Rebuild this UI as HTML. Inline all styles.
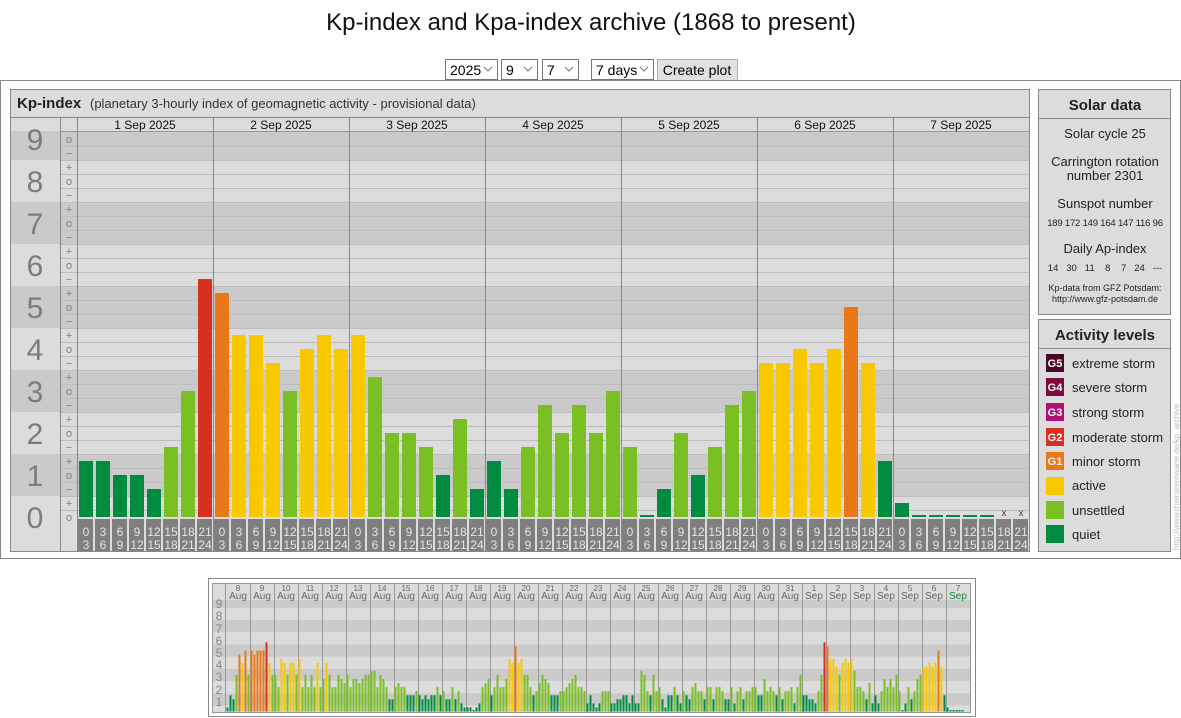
<!DOCTYPE html>
<html><head><meta charset="utf-8"><style>
html,body{margin:0;padding:0;background:#fff;width:1181px;height:718px;overflow:hidden}
svg{display:block;font-family:"Liberation Sans",Arial,sans-serif}
.sg{font-size:11px;fill:#808080;text-anchor:middle}
.tl{font-size:12px;fill:#e4e4e4;text-anchor:middle}
.dl{font-size:12px;fill:#111;text-anchor:middle}
.bn{font-size:30px;fill:#7c7c7c;text-anchor:middle}
.sd{fill:#222;text-anchor:middle}
.al{font-size:13px;fill:#222}
.gl{font-size:11px;fill:#fff;font-weight:bold;text-anchor:middle}
.md{font-size:8px;fill:#666;text-anchor:middle}
.mm{font-size:10px;fill:#666;text-anchor:middle}
.mn{font-size:12px;fill:#888;text-anchor:middle}
</style></head><body>
<svg id="s" width="1181" height="718" viewBox="0 0 1181 718" xmlns="http://www.w3.org/2000/svg">
<text x="591" y="30" font-size="24" text-anchor="middle" fill="#111">Kp-index and Kpa-index archive (1868 to present)</text>
<!-- controls -->
<g font-size="14" fill="#000">
<rect x="445.5" y="59.5" width="52" height="20" fill="#fff" stroke="#767676"/><text x="450" y="75">2025</text><path d="M484 67l4 4 4-4" fill="none" stroke="#777"/>
<rect x="501.5" y="59.5" width="36" height="20" fill="#fff" stroke="#767676"/><text x="506" y="75">9</text><path d="M524 67l4 4 4-4" fill="none" stroke="#777"/>
<rect x="542.5" y="59.5" width="36" height="20" fill="#fff" stroke="#767676"/><text x="547" y="75">7</text><path d="M565 67l4 4 4-4" fill="none" stroke="#777"/>
<rect x="591.5" y="59.5" width="62" height="20" fill="#fff" stroke="#767676"/><text x="596" y="75">7 days</text><path d="M640 67l4 4 4-4" fill="none" stroke="#777"/>
<rect x="657.5" y="59.5" width="80" height="21" fill="#e1e1e1" stroke="#adadad"/><text x="697" y="75" text-anchor="middle">Create plot</text>
</g>
<rect x="0.5" y="80.5" width="1180" height="478" fill="#fff" stroke="#888"/>
<rect x="10.5" y="89.5" width="1019" height="462" fill="#dcdcdc" stroke="#888"/>
<g id="main"></g>
<line x1="10" y1="117.5" x2="1029" y2="117.5" stroke="#888"/>
<text x="17" y="108" font-size="15" font-weight="bold" fill="#222">Kp-index</text>
<text x="90" y="108" font-size="13" fill="#333">(planetary 3-hourly index of geomagnetic activity - provisional data)</text>
<g class="dl">
<text x="145" y="129">1 Sep 2025</text><text x="281" y="129">2 Sep 2025</text><text x="417" y="129">3 Sep 2025</text><text x="553" y="129">4 Sep 2025</text><text x="689" y="129">5 Sep 2025</text><text x="825" y="129">6 Sep 2025</text><text x="961" y="129">7 Sep 2025</text>
</g>
<g class="bn">
<text x="35" y="528">0</text><text x="35" y="486">1</text><text x="35" y="444">2</text><text x="35" y="402">3</text><text x="35" y="360">4</text><text x="35" y="318">5</text><text x="35" y="276">6</text><text x="35" y="234">7</text><text x="35" y="192">8</text><text x="35" y="150">9</text>
</g>
<text class="sg"><tspan x="69" y="521">o</tspan><tspan x="69" y="507">+</tspan><tspan x="69" y="493">−</tspan><tspan x="69" y="479">o</tspan><tspan x="69" y="465">+</tspan><tspan x="69" y="451">−</tspan><tspan x="69" y="437">o</tspan><tspan x="69" y="423">+</tspan><tspan x="69" y="409">−</tspan><tspan x="69" y="395">o</tspan><tspan x="69" y="381">+</tspan><tspan x="69" y="367">−</tspan><tspan x="69" y="353">o</tspan><tspan x="69" y="339">+</tspan><tspan x="69" y="325">−</tspan><tspan x="69" y="311">o</tspan><tspan x="69" y="297">+</tspan><tspan x="69" y="283">−</tspan><tspan x="69" y="269">o</tspan><tspan x="69" y="255">+</tspan><tspan x="69" y="241">−</tspan><tspan x="69" y="227">o</tspan><tspan x="69" y="213">+</tspan><tspan x="69" y="199">−</tspan><tspan x="69" y="185">o</tspan><tspan x="69" y="171">+</tspan><tspan x="69" y="157">−</tspan><tspan x="69" y="143">o</tspan></text>
<g class="tl">
<text y="536"><tspan x="86">0</tspan><tspan x="103">3</tspan><tspan x="120">6</tspan><tspan x="137">9</tspan><tspan x="154">12</tspan><tspan x="171">15</tspan><tspan x="188">18</tspan><tspan x="205">21</tspan><tspan x="222">0</tspan><tspan x="239">3</tspan><tspan x="256">6</tspan><tspan x="273">9</tspan><tspan x="290">12</tspan><tspan x="307">15</tspan><tspan x="324">18</tspan><tspan x="341">21</tspan><tspan x="358">0</tspan><tspan x="375">3</tspan><tspan x="392">6</tspan><tspan x="409">9</tspan><tspan x="426">12</tspan><tspan x="443">15</tspan><tspan x="460">18</tspan><tspan x="477">21</tspan><tspan x="494">0</tspan><tspan x="511">3</tspan><tspan x="528">6</tspan><tspan x="545">9</tspan><tspan x="562">12</tspan><tspan x="579">15</tspan><tspan x="596">18</tspan><tspan x="613">21</tspan><tspan x="630">0</tspan><tspan x="647">3</tspan><tspan x="664">6</tspan><tspan x="681">9</tspan><tspan x="698">12</tspan><tspan x="715">15</tspan><tspan x="732">18</tspan><tspan x="749">21</tspan><tspan x="766">0</tspan><tspan x="783">3</tspan><tspan x="800">6</tspan><tspan x="817">9</tspan><tspan x="834">12</tspan><tspan x="851">15</tspan><tspan x="868">18</tspan><tspan x="885">21</tspan><tspan x="902">0</tspan><tspan x="919">3</tspan><tspan x="936">6</tspan><tspan x="953">9</tspan><tspan x="970">12</tspan><tspan x="987">15</tspan><tspan x="1004">18</tspan><tspan x="1021">21</tspan></text>
<text y="549"><tspan x="86">3</tspan><tspan x="103">6</tspan><tspan x="120">9</tspan><tspan x="137">12</tspan><tspan x="154">15</tspan><tspan x="171">18</tspan><tspan x="188">21</tspan><tspan x="205">24</tspan><tspan x="222">3</tspan><tspan x="239">6</tspan><tspan x="256">9</tspan><tspan x="273">12</tspan><tspan x="290">15</tspan><tspan x="307">18</tspan><tspan x="324">21</tspan><tspan x="341">24</tspan><tspan x="358">3</tspan><tspan x="375">6</tspan><tspan x="392">9</tspan><tspan x="409">12</tspan><tspan x="426">15</tspan><tspan x="443">18</tspan><tspan x="460">21</tspan><tspan x="477">24</tspan><tspan x="494">3</tspan><tspan x="511">6</tspan><tspan x="528">9</tspan><tspan x="545">12</tspan><tspan x="562">15</tspan><tspan x="579">18</tspan><tspan x="596">21</tspan><tspan x="613">24</tspan><tspan x="630">3</tspan><tspan x="647">6</tspan><tspan x="664">9</tspan><tspan x="681">12</tspan><tspan x="698">15</tspan><tspan x="715">18</tspan><tspan x="732">21</tspan><tspan x="749">24</tspan><tspan x="766">3</tspan><tspan x="783">6</tspan><tspan x="800">9</tspan><tspan x="817">12</tspan><tspan x="834">15</tspan><tspan x="851">18</tspan><tspan x="868">21</tspan><tspan x="885">24</tspan><tspan x="902">3</tspan><tspan x="919">6</tspan><tspan x="936">9</tspan><tspan x="953">12</tspan><tspan x="970">15</tspan><tspan x="987">18</tspan><tspan x="1004">21</tspan><tspan x="1021">24</tspan></text>
</g>
<text x="1004" y="516" font-size="10" fill="#444" text-anchor="middle">x</text>
<text x="1021" y="516" font-size="10" fill="#444" text-anchor="middle">x</text>
<!-- solar data -->
<rect x="1038.5" y="89.5" width="132" height="225" fill="#dcdcdc" stroke="#888"/>
<line x1="1038" y1="118.5" x2="1171" y2="118.5" stroke="#888"/>
<text x="1105" y="110" font-size="15" font-weight="bold" class="sd">Solar data</text>
<g class="sd" font-size="13">
<text x="1105" y="138">Solar cycle 25</text>
<text x="1105" y="166">Carrington rotation</text>
<text x="1105" y="180">number 2301</text>
<text x="1105" y="208">Sunspot number</text>
<text x="1105" y="253">Daily Ap-index</text>
</g>
<g class="sd" font-size="9.5">
<text x="1105" y="226" letter-spacing="-0.2">189 172 149 164 147 116  96</text>
<text x="1105" y="271" xml:space="preserve">14   30   11    8    7   24   ---</text>
<text x="1105" y="291" font-size="9">Kp-data from  GFZ Potsdam:</text>
<text x="1105" y="302" font-size="9">http://www.gfz-potsdam.de</text>
</g>
<rect x="1038.5" y="319.5" width="132" height="232" fill="#dcdcdc" stroke="#888"/>
<line x1="1038" y1="348.5" x2="1171" y2="348.5" stroke="#888"/>
<text x="1105" y="340" font-size="15" font-weight="bold" class="sd">Activity levels</text>
<rect x="1046" y="354" width="18" height="18" fill="#4a0824"/><text class="gl" x="1055" y="367">G5</text><text class="al" x="1072" y="368">extreme storm</text>
<rect x="1046" y="378" width="18" height="18" fill="#7a0a3c"/><text class="gl" x="1055" y="391">G4</text><text class="al" x="1072" y="392">severe storm</text>
<rect x="1046" y="403" width="18" height="18" fill="#b0106e"/><text class="gl" x="1055" y="416">G3</text><text class="al" x="1072" y="417">strong storm</text>
<rect x="1046" y="428" width="18" height="18" fill="#d83020"/><text class="gl" x="1055" y="441">G2</text><text class="al" x="1072" y="442">moderate storm</text>
<rect x="1046" y="452" width="18" height="18" fill="#e87818"/><text class="gl" x="1055" y="465">G1</text><text class="al" x="1072" y="466">minor storm</text>
<rect x="1046" y="477" width="18" height="18" fill="#f8c800"/><text class="al" x="1072" y="490">active</text>
<rect x="1046" y="501" width="18" height="18" fill="#7abf24"/><text class="al" x="1072" y="515">unsettled</text>
<rect x="1046" y="525" width="18" height="18" fill="#008c40"/><text class="al" x="1072" y="539">quiet</text>
<text transform="translate(1179,550) rotate(-90)" font-size="8" fill="#bbb">http://www.rheinsternwarte.de/kp_archive</text>
<!-- mini -->
<rect x="208.5" y="578.5" width="767" height="138" fill="#fff" stroke="#888"/>
<rect x="212.5" y="583.5" width="758" height="129" fill="#dcdcdc" stroke="#999"/>
<g id="mini"></g>
<g class="mn">
<text x="219" y="706">1</text><text x="219" y="694">2</text><text x="219" y="681">3</text><text x="219" y="669">4</text><text x="219" y="657">5</text><text x="219" y="645">6</text><text x="219" y="633">7</text><text x="219" y="620">8</text><text x="219" y="608">9</text>
</g>
<g class="md">
<text y="591"><tspan x="238">8</tspan><tspan x="262">9</tspan><tspan x="286">10</tspan><tspan x="310">11</tspan><tspan x="334">12</tspan><tspan x="358">13</tspan><tspan x="382">14</tspan><tspan x="406">15</tspan><tspan x="430">16</tspan><tspan x="454">17</tspan><tspan x="478">18</tspan><tspan x="502">19</tspan><tspan x="526">20</tspan><tspan x="550">21</tspan><tspan x="574">22</tspan><tspan x="598">23</tspan><tspan x="622">24</tspan><tspan x="646">25</tspan><tspan x="670">26</tspan><tspan x="694">27</tspan><tspan x="718">28</tspan><tspan x="742">29</tspan><tspan x="766">30</tspan><tspan x="790">31</tspan><tspan x="814">1</tspan><tspan x="838">2</tspan><tspan x="862">3</tspan><tspan x="886">4</tspan><tspan x="910">5</tspan><tspan x="934">6</tspan><tspan x="958" fill="#0a9040">7</tspan></text>
</g>
<g class="mm">
<text y="599"><tspan x="238">Aug</tspan><tspan x="262">Aug</tspan><tspan x="286">Aug</tspan><tspan x="310">Aug</tspan><tspan x="334">Aug</tspan><tspan x="358">Aug</tspan><tspan x="382">Aug</tspan><tspan x="406">Aug</tspan><tspan x="430">Aug</tspan><tspan x="454">Aug</tspan><tspan x="478">Aug</tspan><tspan x="502">Aug</tspan><tspan x="526">Aug</tspan><tspan x="550">Aug</tspan><tspan x="574">Aug</tspan><tspan x="598">Aug</tspan><tspan x="622">Aug</tspan><tspan x="646">Aug</tspan><tspan x="670">Aug</tspan><tspan x="694">Aug</tspan><tspan x="718">Aug</tspan><tspan x="742">Aug</tspan><tspan x="766">Aug</tspan><tspan x="790">Aug</tspan><tspan x="814">Sep</tspan><tspan x="838">Sep</tspan><tspan x="862">Sep</tspan><tspan x="886">Sep</tspan><tspan x="910">Sep</tspan><tspan x="934">Sep</tspan><tspan x="958" fill="#0a9040">Sep</tspan></text>
</g>
</svg>
<script>
(function(){
var NS='http://www.w3.org/2000/svg';
function el(p,t,a){var e=document.createElementNS(NS,t);for(var k in a)e.setAttribute(k,a[k]);p.insertBefore(e,p.firstChild&&p.id=='main'&&t=='zz'?null:null);p.appendChild(e);return e;}
function col(v){return v<=4?'#008c40':v<=10?'#7abf24':v<=13?'#f8c800':v<=16?'#e87818':'#d83020';}
var main=document.getElementById('main');
// bands
for(var n=0;n<=9;n++){var y1=517-(n+0.5)*42,y2=517-(n-0.5)*42;y1=Math.max(y1,131);y2=Math.min(y2,517);
el(main,'rect',{x:11,y:y1,width:1018,height:y2-y1,fill:n%2?'#cacaca':'#dcdcdc'});}
el(main,'rect',{x:11,y:118,width:1018,height:13,fill:'#dcdcdc'});
el(main,'rect',{x:11,y:517,width:1018,height:34,fill:'#dcdcdc'});
for(var k=0;k<27;k++){var y=Math.round(517-(k+0.5)*14)+0.5;el(main,'line',{x1:60,y1:y,x2:1029,y2:y,stroke:'#bdbdbd'});}
el(main,'line',{x1:60,y1:131.5,x2:1029,y2:131.5,stroke:'#999'});
el(main,'line',{x1:60.5,y1:118,x2:60.5,y2:551,stroke:'#888'});
el(main,'line',{x1:77.5,y1:118,x2:77.5,y2:551,stroke:'#888'});
for(var d=1;d<7;d++){var x=77+136*d+0.5;el(main,'line',{x1:x,y1:118,x2:x,y2:551,stroke:'#888'});}
var V=[4,4,3,3,2,5,9,17, 16,13,13,11,9,12,13,12, 13,10,6,6,5,3,7,2, 4,2,5,8,6,8,6,9, 5,0,2,6,3,5,8,9, 11,11,12,11,12,15,11,4, 1,0,0,0,0,0,-1,-1];
for(var i=0;i<56;i++){var sx=77+17*i;
el(main,'rect',{x:sx+1,y:519,width:15,height:32,fill:'#7f7f7f'});
var v=V[i];if(v<0)continue;var h=v==0?2:v*14;
el(main,'rect',{x:sx+2,y:517-h,width:14,height:h,fill:col(v)});}
// mini
var mini=document.getElementById('mini');var u=12.2,b=711.5;
for(var n=0;n<=9;n++){var y1=b-(n+0.5)*u,y2=b-(n-0.5)*u;y1=Math.max(y1,600);y2=Math.min(y2,712);
el(mini,'rect',{x:213,y:y1,width:757,height:y2-y1,fill:n%2?'#cacaca':'#dcdcdc'});}
el(mini,'line',{x1:225.5,y1:584,x2:225.5,y2:712,stroke:'#999'});
for(var d=1;d<31;d++){var x=226+24*d+0.5;el(mini,'line',{x1:x,y1:584,x2:x,y2:712,stroke:'#999'});}
var M=[1,4,3,9,14,12,15,9, 15,14,15,15,15,17,12,9, 9,6,13,12,9,12,12,9, 13,6,9,6,9,6,12,6, 8,12,9,6,6,9,8,7, 9,6,8,8,7,8,9,9, 10,10,6,9,8,6,3,3, 6,7,6,6,4,4,4,5, 4,3,4,3,4,4,6,4, 5,3,3,6,3,5,2,1,
1,1,0,1,2,6,7,8, 4,6,9,6,6,8,13,12, 16,12,13,9,9,6,4,5, 7,9,8,7,4,4,4,5, 5,6,7,8,9,6,6,5, 2,4,2,1,2,5,5,5, 2,2,3,3,4,4,2,4, 2,2,10,9,5,4,9,5, 6,3,1,4,4,6,4,2, 5,4,3,6,7,5,5,3,
6,6,3,6,6,5,3,3, 6,2,5,6,3,5,5,6, 6,4,4,8,5,6,5,4, 6,3,5,5,6,2,6,9].concat(V);
for(var i=0;i<M.length;i++){var v=M[i];if(v<0)continue;var h=v==0?1.5:v/3*u;
el(mini,'rect',{x:226+3*i+0.5,y:711.5-h,width:2,height:h,fill:col(v)});}
})();
</script>
</body></html>
